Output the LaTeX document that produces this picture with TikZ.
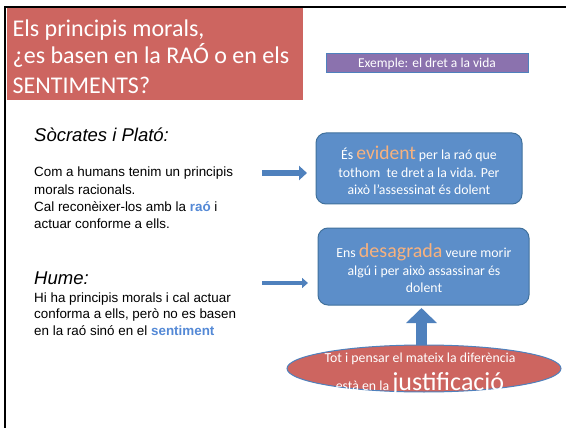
\documentclass[tikz,border=0pt]{standalone}
\usepackage{fontspec}
\setmainfont{Carlito}
\newfontfamily\arialf{Liberation Sans}
\usetikzlibrary{arrows.meta,shapes.geometric}
\definecolor{tred}{RGB}{205,101,96}
\definecolor{eblue}{RGB}{79,129,189}
\definecolor{bfill}{RGB}{92,142,201}
\definecolor{bdraw}{RGB}{65,113,156}
\definecolor{purp}{RGB}{139,114,174}
\definecolor{orng}{RGB}{248,178,126}
\definecolor{kwblue}{RGB}{84,137,214}
\tikzset{
  txt/.style={anchor=base west, inner sep=0pt},
  ctxt/.style={anchor=base, inner sep=0pt, text=white},
  ttl/.style={txt, text=white, font=\fontsize{24}{27}\selectfont},
  body/.style={txt, font=\arialf\fontsize{13.4}{16}\selectfont},
  head/.style={txt, font=\arialf\itshape\fontsize{18.5}{21}\selectfont},
  btxt/.style={ctxt, font=\fontsize{13.8}{16}\selectfont},
  bluebox/.style={draw=bdraw, line width=1pt, fill=bfill, rounded corners=10pt},
}
\begin{document}
\begin{tikzpicture}[x=1pt,y=-1pt]
\useasboundingbox (0,0) rectangle (566,428);
\fill[white] (0,0) rectangle (566,428);
% slide frame
\draw[line width=2.5pt] (5,428) -- (5,7) -- (566,7);
% title
\node[fill=tred, inner sep=0pt, minimum width=296pt, minimum height=92pt, anchor=north west] (title) at (6.3,8.3) {};
\node[ttl] (t1) at (12.5,36.5) {Els principis morals,};
\node[ttl] (t2) at (12.5,63.5) {¿es basen en la RAÓ o en els};
\node[ttl] (t3) at (12.5,93.5) {SENTIMENTS?};
% example box
\node[draw=eblue, line width=1pt, fill=purp, minimum width=202pt, minimum height=19pt, inner sep=0pt, text=white, font=\fontsize{13.5}{15}\selectfont] (ex) at (427,63.5) {Exemple: el dret a la vida};
% left texts
\node[head] (soc) at (34,142) {Sòcrates i Plató:};
\node[body] (s1) at (34,177) {Com a humans tenim un principis};
\node[body] (s2) at (34,194.3) {morals racionals.};
\node[body] (s3) at (34,211.6) {Cal reconèixer-los amb la \textcolor{kwblue}{\bfseries raó} i};
\node[body] (s4) at (34,228.9) {actuar conforme a ells.};
\node[head] (hum) at (34,284) {Hume:};
\node[body] (h1) at (34,302) {Hi ha principis morals i cal actuar};
\node[body] (h2) at (34,318.5) {conforma a ells, però no es basen};
\node[body] (h3) at (34,335) {en la raó sinó en el \textcolor{kwblue}{\bfseries sentiment}};
% blue boxes
\node[bluebox, minimum width=206pt, minimum height=71pt, inner sep=0pt] (b1) at (419,168.5) {};
\node[btxt] (b1a) at (419,160) {És \textcolor{orng}{\fontsize{19.5}{21}\selectfont evident} per la raó que};
\node[btxt] (b1b) at (419,177.5) {tothom\ \ te dret a la vida. Per};
\node[btxt] (b1c) at (419,194) {això l’assessinat és dolent};
\node[bluebox, minimum width=211pt, minimum height=77pt, inner sep=0pt] (b2) at (423.5,266.5) {};
\node[btxt] (b2a) at (424,258) {Ens \textcolor{orng}{\fontsize{20}{22}\selectfont desagrada} veure morir};
\node[btxt] (b2b) at (424,275.5) {algú i per això assassinar és};
\node[btxt] (b2c) at (424,292.5) {dolent};
% arrows
\coordinate (a1s) at (262,173);
\coordinate (a1e) at (307,173);
\draw[eblue, line width=6pt, -{Triangle[length=8pt, width=14pt]}] (a1s) -- (a1e);
\coordinate (a2s) at (262,283);
\coordinate (a2e) at (308,283);
\draw[eblue, line width=4.5pt, -{Triangle[length=6pt, width=10pt]}] (a2s) -- (a2e);
\coordinate (upS) at (421.5,352);
\coordinate (upE) at (421.5,308);
\draw[eblue, line width=11pt, -{Triangle[length=15pt, width=30pt]}] (upS) -- (upE);
% ellipse
\node[ellipse, draw=eblue, line width=1pt, fill=tred, minimum width=274pt, minimum height=47pt, inner sep=0pt] (ell) at (424,368.5) {};
\node[btxt] (e1) at (420,362) {Tot i pensar el mateix la diferència};
\node[btxt] (e2) at (420,390) {està en la {\fontsize{26}{28}\selectfont justificació}};
\end{tikzpicture}
\end{document}
